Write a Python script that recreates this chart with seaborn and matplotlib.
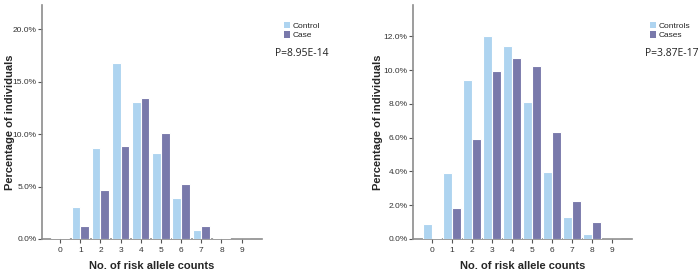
import numpy as np
import pandas as pd
import matplotlib
matplotlib.use("Agg")
import matplotlib.pyplot as plt
import seaborn as sns

sns.set_style("white")
plt.rcParams["font.family"] = ["Liberation Sans", "DejaVu Sans"]

counts = ["0", "1", "2", "3", "4", "5", "6", "7", "8", "9"]

# left panel (percent of individuals)
left_control = [0.1, 3.08, 8.63, 16.76, 13.08, 8.22, 3.87, 0.89, 0.05, 0.02]
left_case = [0.1, 1.24, 4.67, 8.89, 13.40, 10.10, 5.24, 1.24, 0.08, 0.02]
left_labels = ["Control", "Case"]
left_p = "P=8.95E-14"

# right panel
right_control = [0.87, 3.91, 9.42, 12.04, 11.45, 8.12, 3.97, 1.32, 0.30, 0.02]
right_case = [0.03, 1.85, 5.90, 9.95, 10.72, 10.25, 6.32, 2.26, 1.02, 0.02]
right_labels = ["Controls", "Cases"]
right_p = "P=3.87E-17"

colors = ["#AED4F0", "#7979AB"]
axis_grey = "#8c8c8c"


def make_df(control, case, labels):
    return pd.DataFrame({
        "count": counts * 2,
        "pct": control + case,
        "group": [labels[0]] * len(counts) + [labels[1]] * len(counts),
    })


def draw_panel(ax, df, labels, ymax, yticks, xlim):
    sns.barplot(data=df, x="count", y="pct", hue="group", hue_order=labels,
                palette=colors, width=0.86, edgecolor="white", linewidth=0.8,
                saturation=1, ax=ax, zorder=3)
    ax.set_ylim(0, ymax)
    ax.set_xlim(*xlim)
    ax.set_yticks(yticks)
    ax.set_yticklabels([f"{t:.1f}%" for t in yticks])
    ax.set_xlabel("No. of risk allele counts", fontsize=8, fontweight="bold", labelpad=5)
    ax.set_ylabel("Percentage of individuals", fontsize=8, fontweight="bold")
    sns.despine(ax=ax)
    for s in ["left", "bottom"]:
        ax.spines[s].set_color(axis_grey)
        ax.spines[s].set_linewidth(1.2)
    ax.spines["bottom"].set_zorder(1)
    ax.tick_params(axis="y", labelsize=6, colors="#333333", length=3, width=0.8,
                   color="#555555", pad=1, direction="out", left=True)
    ax.tick_params(axis="x", labelsize=6, colors="#333333", length=3, width=0.8,
                   color="#555555", pad=3, direction="out", bottom=True)
    ax.get_legend().remove()


fig = plt.figure(figsize=(7, 2.75), dpi=100)
ax1 = fig.add_axes([0.06, 0.131, 0.314, 0.851])
ax2 = fig.add_axes([0.59, 0.131, 0.313, 0.851])

draw_panel(ax1, make_df(left_control, left_case, left_labels), left_labels,
           22.3, [0, 5, 10, 15, 20], (-0.9, 10.0))
draw_panel(ax2, make_df(right_control, right_case, right_labels), right_labels,
           13.85, [0, 2, 4, 6, 8, 10, 12], (-0.95, 10.0))

ax1.yaxis.set_label_coords(-0.125, 0.5)
ax2.yaxis.set_label_coords(-0.137, 0.5)

for ax, labels, p, lx, px in [(ax1, left_labels, left_p, 0.405, 0.393),
                               (ax2, right_labels, right_p, 0.928, 0.921)]:
    handles = [plt.Rectangle((0, 0), 1, 1, facecolor=c, edgecolor="none") for c in colors]
    fig.legend(handles, labels, loc="upper left", bbox_to_anchor=(lx, 0.92),
               frameon=False, fontsize=6, handlelength=0.8, handleheight=0.8,
               handletextpad=0.3, labelspacing=0.15, borderaxespad=0, borderpad=0)
    fig.text(px, 0.805, p, fontsize=7.5, family=["Open Sans", "DejaVu Sans"],
             color="#222222", ha="left", va="center")

plt.savefig("out.png", dpi=100)
